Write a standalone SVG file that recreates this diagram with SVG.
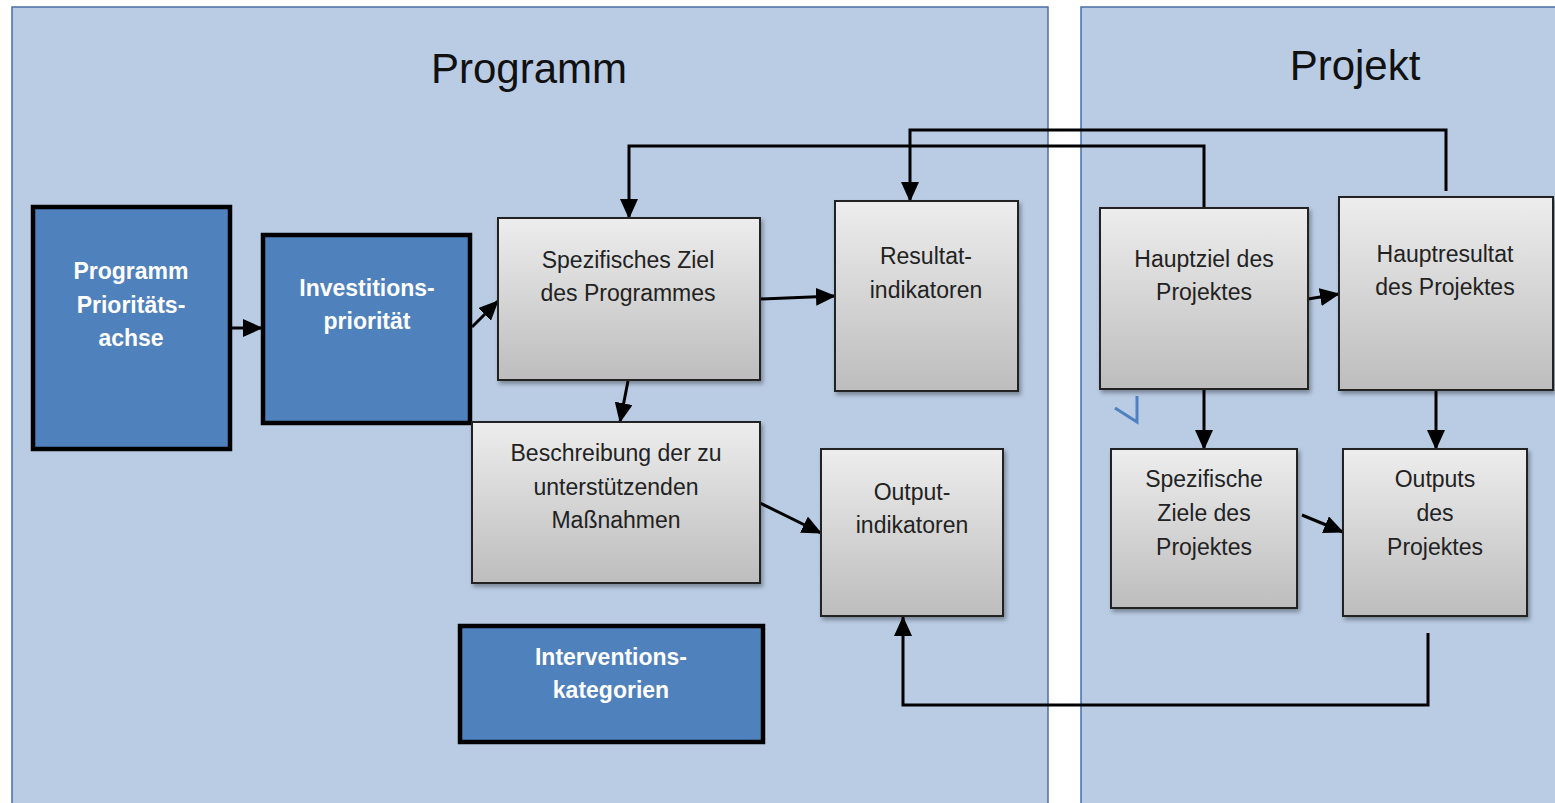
<svg xmlns="http://www.w3.org/2000/svg" width="1555" height="803" viewBox="0 0 1555 803">
<defs>
<linearGradient id="gray" x1="0" y1="0" x2="0" y2="1">
<stop offset="0" stop-color="#ededed"/>
<stop offset="1" stop-color="#bdbdbd"/>
</linearGradient>
<filter id="sh" x="-10%" y="-10%" width="130%" height="130%">
<feDropShadow dx="2" dy="3" stdDeviation="2" flood-color="#000" flood-opacity="0.35"/>
</filter>
<marker id="ah" markerUnits="userSpaceOnUse" markerWidth="20" markerHeight="18" refX="19" refY="9" orient="auto">
<path d="M0,0 L20,9 L0,18 Z" fill="#000"/>
</marker>
<style>
.panel{fill:#b9cce4;stroke:#4a6fa5;stroke-width:1.5}
.title{font-family:"Liberation Sans",Arial,sans-serif;font-size:42px;fill:#111;text-anchor:middle}
.blue{fill:#4f81bd;stroke:#000;stroke-width:4.5}
.grey{fill:url(#gray);stroke:#222;stroke-width:2;filter:url(#sh)}
.bt{font-family:"Liberation Sans",Arial,sans-serif;font-size:23px;font-weight:bold;fill:#fff;text-anchor:middle}
.gt{font-family:"Liberation Sans",Arial,sans-serif;font-size:23px;fill:#222;text-anchor:middle}
.c{fill:none;stroke:#000;stroke-width:3;marker-end:url(#ah)}
.cn{fill:none;stroke:#000;stroke-width:3}
</style>
</defs>
<rect width="1555" height="803" fill="#fff"/>
<g id="panels">
<rect class="panel" x="12" y="7" width="1036" height="810"/>
<rect class="panel" x="1081" y="7" width="490" height="810"/>
<text class="title" x="529" y="83">Programm</text>
<text class="title" x="1355" y="80">Projekt</text>
<polyline points="1115,408 1137,422 1137,396" fill="none" stroke="#4f81bd" stroke-width="3"/>
</g>
<g id="connectors">
<path class="c" d="M231,328 L262,328"/>
<path class="c" d="M472,327 L498,301"/>
<path class="c" d="M760,299 L835,296"/>
<path class="c" d="M628,381 L620,422"/>
<path class="c" d="M760,503 L821,533"/>
<path class="c" d="M1204,208 V146 H629 V218"/>
<path class="c" d="M1446,191 V130 H910 V201"/>
<path class="c" d="M1308,299 L1339,294"/>
<path class="c" d="M1204,389 V449"/>
<path class="c" d="M1436,390 V449"/>
<path class="c" d="M1302,515 L1343,532"/>
<path class="c" d="M1428,633 V705 H903 V617"/>
</g>
<g id="n-prioritaetsachse">
<rect class="blue" x="33" y="207" width="197" height="242"/>
<text class="bt" x="131" y="279">Programm</text>
<text class="bt" x="131" y="313">Prioritäts-</text>
<text class="bt" x="131" y="346">achse</text>
</g>
<g id="n-investitionsprioritaet">
<rect class="blue" x="263" y="235" width="207" height="188"/>
<text class="bt" x="367" y="296">Investitions-</text>
<text class="bt" x="367" y="329">priorität</text>
</g>
<g id="n-spezifisches-ziel">
<rect class="grey" x="498" y="218" width="262" height="162"/>
<text class="gt" x="628" y="268">Spezifisches Ziel</text>
<text class="gt" x="628" y="301">des Programmes</text>
</g>
<g id="n-resultatindikatoren">
<rect class="grey" x="835" y="201" width="183" height="190"/>
<text class="gt" x="926" y="264">Resultat-</text>
<text class="gt" x="926" y="298">indikatoren</text>
</g>
<g id="n-beschreibung">
<rect class="grey" x="472" y="422" width="288" height="161"/>
<text class="gt" x="616" y="461">Beschreibung der zu</text>
<text class="gt" x="616" y="495">unterstützenden</text>
<text class="gt" x="616" y="528">Maßnahmen</text>
</g>
<g id="n-outputindikatoren">
<rect class="grey" x="821" y="449" width="182" height="167"/>
<text class="gt" x="912" y="500">Output-</text>
<text class="gt" x="912" y="533">indikatoren</text>
</g>
<g id="n-interventionskategorien">
<rect class="blue" x="460" y="626" width="303" height="116"/>
<text class="bt" x="611" y="665">Interventions-</text>
<text class="bt" x="611" y="698">kategorien</text>
</g>
<g id="n-hauptziel">
<rect class="grey" x="1100" y="208" width="208" height="181"/>
<text class="gt" x="1204" y="267">Hauptziel des</text>
<text class="gt" x="1204" y="300">Projektes</text>
</g>
<g id="n-hauptresultat">
<rect class="grey" x="1339" y="197" width="214" height="193"/>
<text class="gt" x="1445" y="262">Hauptresultat</text>
<text class="gt" x="1445" y="295">des Projektes</text>
</g>
<g id="n-spezifische-ziele">
<rect class="grey" x="1111" y="449" width="186" height="159"/>
<text class="gt" x="1204" y="487">Spezifische</text>
<text class="gt" x="1204" y="521">Ziele des</text>
<text class="gt" x="1204" y="555">Projektes</text>
</g>
<g id="n-outputs">
<rect class="grey" x="1343" y="449" width="184" height="167"/>
<text class="gt" x="1435" y="487">Outputs</text>
<text class="gt" x="1435" y="521">des</text>
<text class="gt" x="1435" y="555">Projektes</text>
</g>
</svg>
